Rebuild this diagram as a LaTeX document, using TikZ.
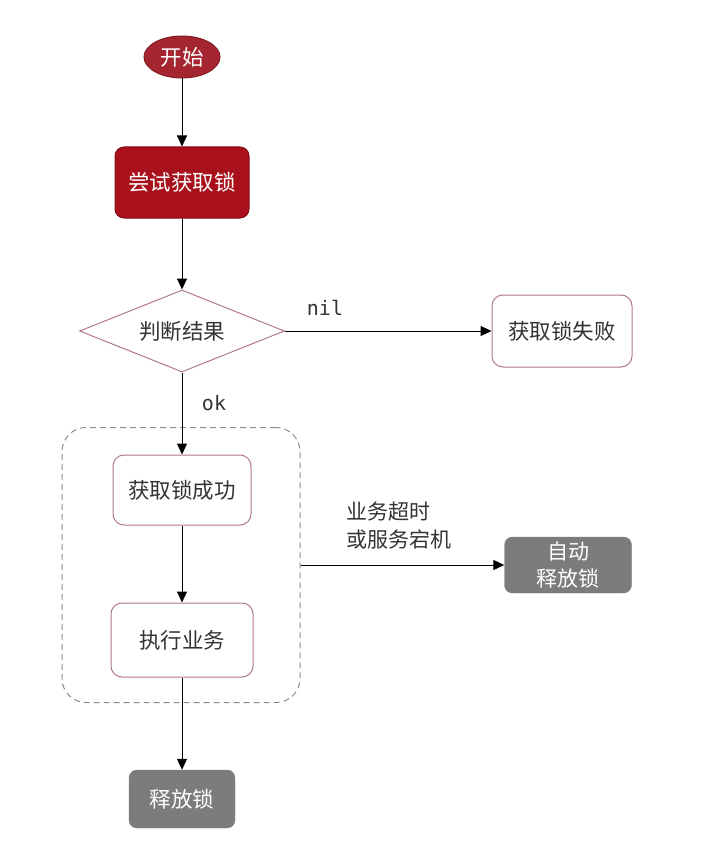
\documentclass[tikz,border=0pt]{standalone}
\usepackage{fontspec}
\setmainfont{Noto Sans CJK SC}
\newfontfamily\monof{DejaVu Sans Mono}
\usetikzlibrary{shapes.geometric,arrows.meta}
\definecolor{darkred}{HTML}{A8101C}
\definecolor{startred}{HTML}{A52530}
\definecolor{pinkedge}{HTML}{B07A86}
\definecolor{greybox}{HTML}{7C7C7C}
\definecolor{txt}{HTML}{333333}
\tikzset{
  every node/.style={font=\fontsize{21.5}{25}\selectfont, inner sep=0pt},
  redbox/.style={rectangle, rounded corners=9pt, fill=darkred, draw=darkred!80!black, line width=1pt, text=white},
  whitebox/.style={rectangle, rounded corners=11pt, fill=white, draw=pinkedge, line width=1pt, text=txt},
  greyrect/.style={rectangle, rounded corners=8pt, fill=greybox, draw=greybox, text=white, align=center},
  arr/.style={-{Triangle[width=10pt,length=11pt]}, line width=1pt, black},
  lbl/.style={font=\monof\fontsize{20}{22}\selectfont, text=txt}
}
\begin{document}
\begin{tikzpicture}[x=1pt,y=-1pt]
\useasboundingbox (0,0) rectangle (702,845);
\node[ellipse, fill=startred, draw=startred!80!black, line width=1pt, text=white, minimum width=76pt, minimum height=42pt] (start) at (182,57) {开始};
\node[redbox, minimum width=134pt, minimum height=71pt] (try) at (182,182.5) {尝试获取锁};
\node[diamond, aspect=2.5, draw=pinkedge, line width=1pt, fill=white, text=txt, minimum width=205pt, minimum height=82pt] (judge) at (182,331) {判断结果};
\node[whitebox, minimum width=140pt, minimum height=72pt] (fail) at (562,331) {获取锁失败};
\node[rectangle, rounded corners=24pt, draw=gray!90, dashed, dash pattern=on 6pt off 4pt, line width=1pt, minimum width=238pt, minimum height=275pt] (group) at (181,565) {};
\node[whitebox, minimum width=138pt, minimum height=70pt] (succ) at (182,490) {获取锁成功};
\node[whitebox, minimum width=142pt, minimum height=74pt] (exec) at (182,640) {执行业务};
\node[greyrect, minimum width=127pt, minimum height=56pt, font=\fontsize{21}{27}\selectfont] (auto) at (568,565) {自动\\释放锁};
\node[greyrect, minimum width=106pt, minimum height=58pt] (rel) at (182,799) {释放锁};
\node[lbl] (nil) at (325,308) {nil};
\node[lbl] (ok) at (214,403) {ok};
\node[anchor=west, align=left, text=txt, font=\fontsize{21}{28}\selectfont] (why) at (346,526) {业务超时\\或服务宕机};
\draw[arr] (start) -- (try);
\draw[arr] (try) -- (judge.north);
\draw[arr] (judge.east) -- (fail);
\draw[arr] (judge.south) -- (succ);
\draw[arr] (succ) -- (exec);
\draw[arr] (group.east) -- (auto);
\draw[arr] (exec) -- (rel);
\end{tikzpicture}
\end{document}
